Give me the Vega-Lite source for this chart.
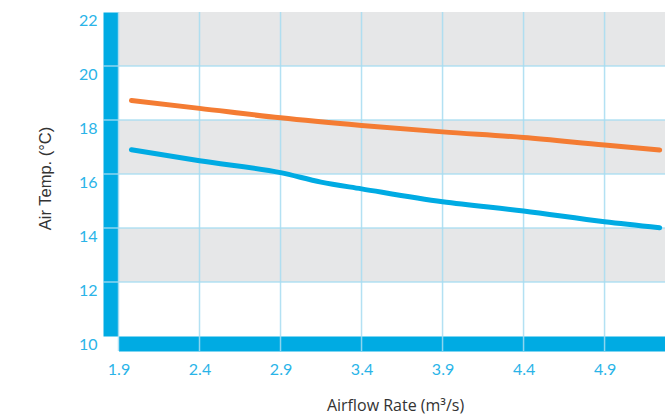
{
  "$schema": "https://vega.github.io/schema/vega-lite/v6.json",
  "width": 546.5,
  "height": 324,
  "autosize": {"type": "none"},
  "padding": {"left": 118.5, "top": 12, "right": 0, "bottom": 80},
  "background": "white",
  "config": {
    "view": {"stroke": null},
    "axis": {
      "grid": false,
      "ticks": false,
      "domainColor": "#00abe3",
      "domainWidth": 15,
      "labelColor": "#2ab4e8",
      "labelFont": "Lato",
      "labelFontSize": 16,
      "labelFlush": false,
      "labelOverlap": false,
      "titleColor": "#333333",
      "titleFontWeight": "normal",
      "titleFontSize": 16
    },
    "axisX": {
      "offset": 7.5,
      "labelPadding": 18,
      "labelDx": 8,
      "titleFont": "Open Sans",
      "titleX": 276.5,
      "titleY": 61.5,
      "titleBaseline": "middle"
    },
    "axisY": {
      "offset": 8,
      "labelPadding": 13.5,
      "labelBaseline": "top",
      "labelAlign": "right",
      "titleFont": "Liberation Sans",
      "titleFontSize": 16.5,
      "titleX": -65,
      "titleY": 166,
      "titleBaseline": "middle"
    }
  },
  "layer": [
    {
      "data": {"values": [
        {"lo": 12, "hi": 14},
        {"lo": 16, "hi": 18},
        {"lo": 20, "hi": 22}
      ]},
      "mark": {"type": "rect", "color": "#e6e7e8"},
      "encoding": {
        "y": {"field": "lo", "type": "quantitative", "title": "Air Temp. (°C)", "scale": {"domain": [10, 22], "nice": false, "zero": false}},
        "y2": {"field": "hi"}
      }
    },
    {
      "data": {"values": [{"v": 12}, {"v": 14}, {"v": 16}, {"v": 18}, {"v": 20}]},
      "mark": {"type": "rule", "color": "#a6dcf1", "strokeWidth": 1.5, "opacity": 0.85},
      "encoding": {
        "y": {"field": "v", "type": "quantitative", "title": "Air Temp. (°C)", "scale": {"domain": [10, 22], "nice": false, "zero": false}},
        "x": {"datum": 1.8043, "type": "quantitative", "title": "Airflow Rate (m³/s)", "scale": {"domain": [1.9, 5.273], "nice": false, "zero": false}},
        "x2": {"datum": 5.273}
      }
    },
    {
      "data": {"values": [{"v": 1.9}, {"v": 2.4}, {"v": 2.9}, {"v": 3.4}, {"v": 3.9}, {"v": 4.4}, {"v": 4.9}]},
      "mark": {"type": "rule", "color": "#a6dcf1", "strokeWidth": 1.5, "opacity": 0.85},
      "encoding": {
        "x": {"field": "v", "type": "quantitative", "title": "Airflow Rate (m³/s)", "scale": {"domain": [1.9, 5.273], "nice": false, "zero": false}},
        "y": {"datum": 22, "type": "quantitative", "title": "Air Temp. (°C)", "scale": {"domain": [10, 22], "nice": false, "zero": false}},
        "y2": {"datum": 9.44}
      }
    },
    {
      "data": {"values": [
        {"series": "Series 1", "rate": 1.98, "temp": 16.9},
        {"series": "Series 1", "rate": 2.4, "temp": 16.49},
        {"series": "Series 1", "rate": 2.9, "temp": 16.05},
        {"series": "Series 1", "rate": 3.15, "temp": 15.7},
        {"series": "Series 1", "rate": 3.4, "temp": 15.45},
        {"series": "Series 1", "rate": 3.9, "temp": 14.97},
        {"series": "Series 1", "rate": 4.4, "temp": 14.63},
        {"series": "Series 1", "rate": 4.9, "temp": 14.23},
        {"series": "Series 1", "rate": 5.24, "temp": 14.01},
        {"series": "Series 2", "rate": 1.98, "temp": 18.72},
        {"series": "Series 2", "rate": 2.4, "temp": 18.43},
        {"series": "Series 2", "rate": 2.9, "temp": 18.08},
        {"series": "Series 2", "rate": 3.4, "temp": 17.8},
        {"series": "Series 2", "rate": 3.9, "temp": 17.56},
        {"series": "Series 2", "rate": 4.4, "temp": 17.35},
        {"series": "Series 2", "rate": 4.9, "temp": 17.07},
        {"series": "Series 2", "rate": 5.24, "temp": 16.89}
      ]},
      "mark": {"type": "line", "strokeWidth": 5, "strokeCap": "round", "strokeJoin": "round", "interpolate": "monotone"},
      "encoding": {
        "x": {
          "field": "rate", "type": "quantitative", "title": "Airflow Rate (m³/s)",
          "scale": {"domain": [1.9, 5.273], "nice": false, "zero": false},
          "axis": {"values": [1.9, 2.4, 2.9, 3.4, 3.9, 4.4, 4.9], "format": ".1f"}
        },
        "y": {
          "field": "temp", "type": "quantitative", "title": "Air Temp. (°C)",
          "scale": {"domain": [10, 22], "nice": false, "zero": false},
          "axis": {"values": [10, 12, 14, 16, 18, 20, 22], "format": "d"}
        },
        "color": {
          "field": "series", "type": "nominal", "legend": null,
          "scale": {"domain": ["Series 1", "Series 2"], "range": ["#00abe3", "#f47c33"]}
        }
      }
    }
  ]
}
